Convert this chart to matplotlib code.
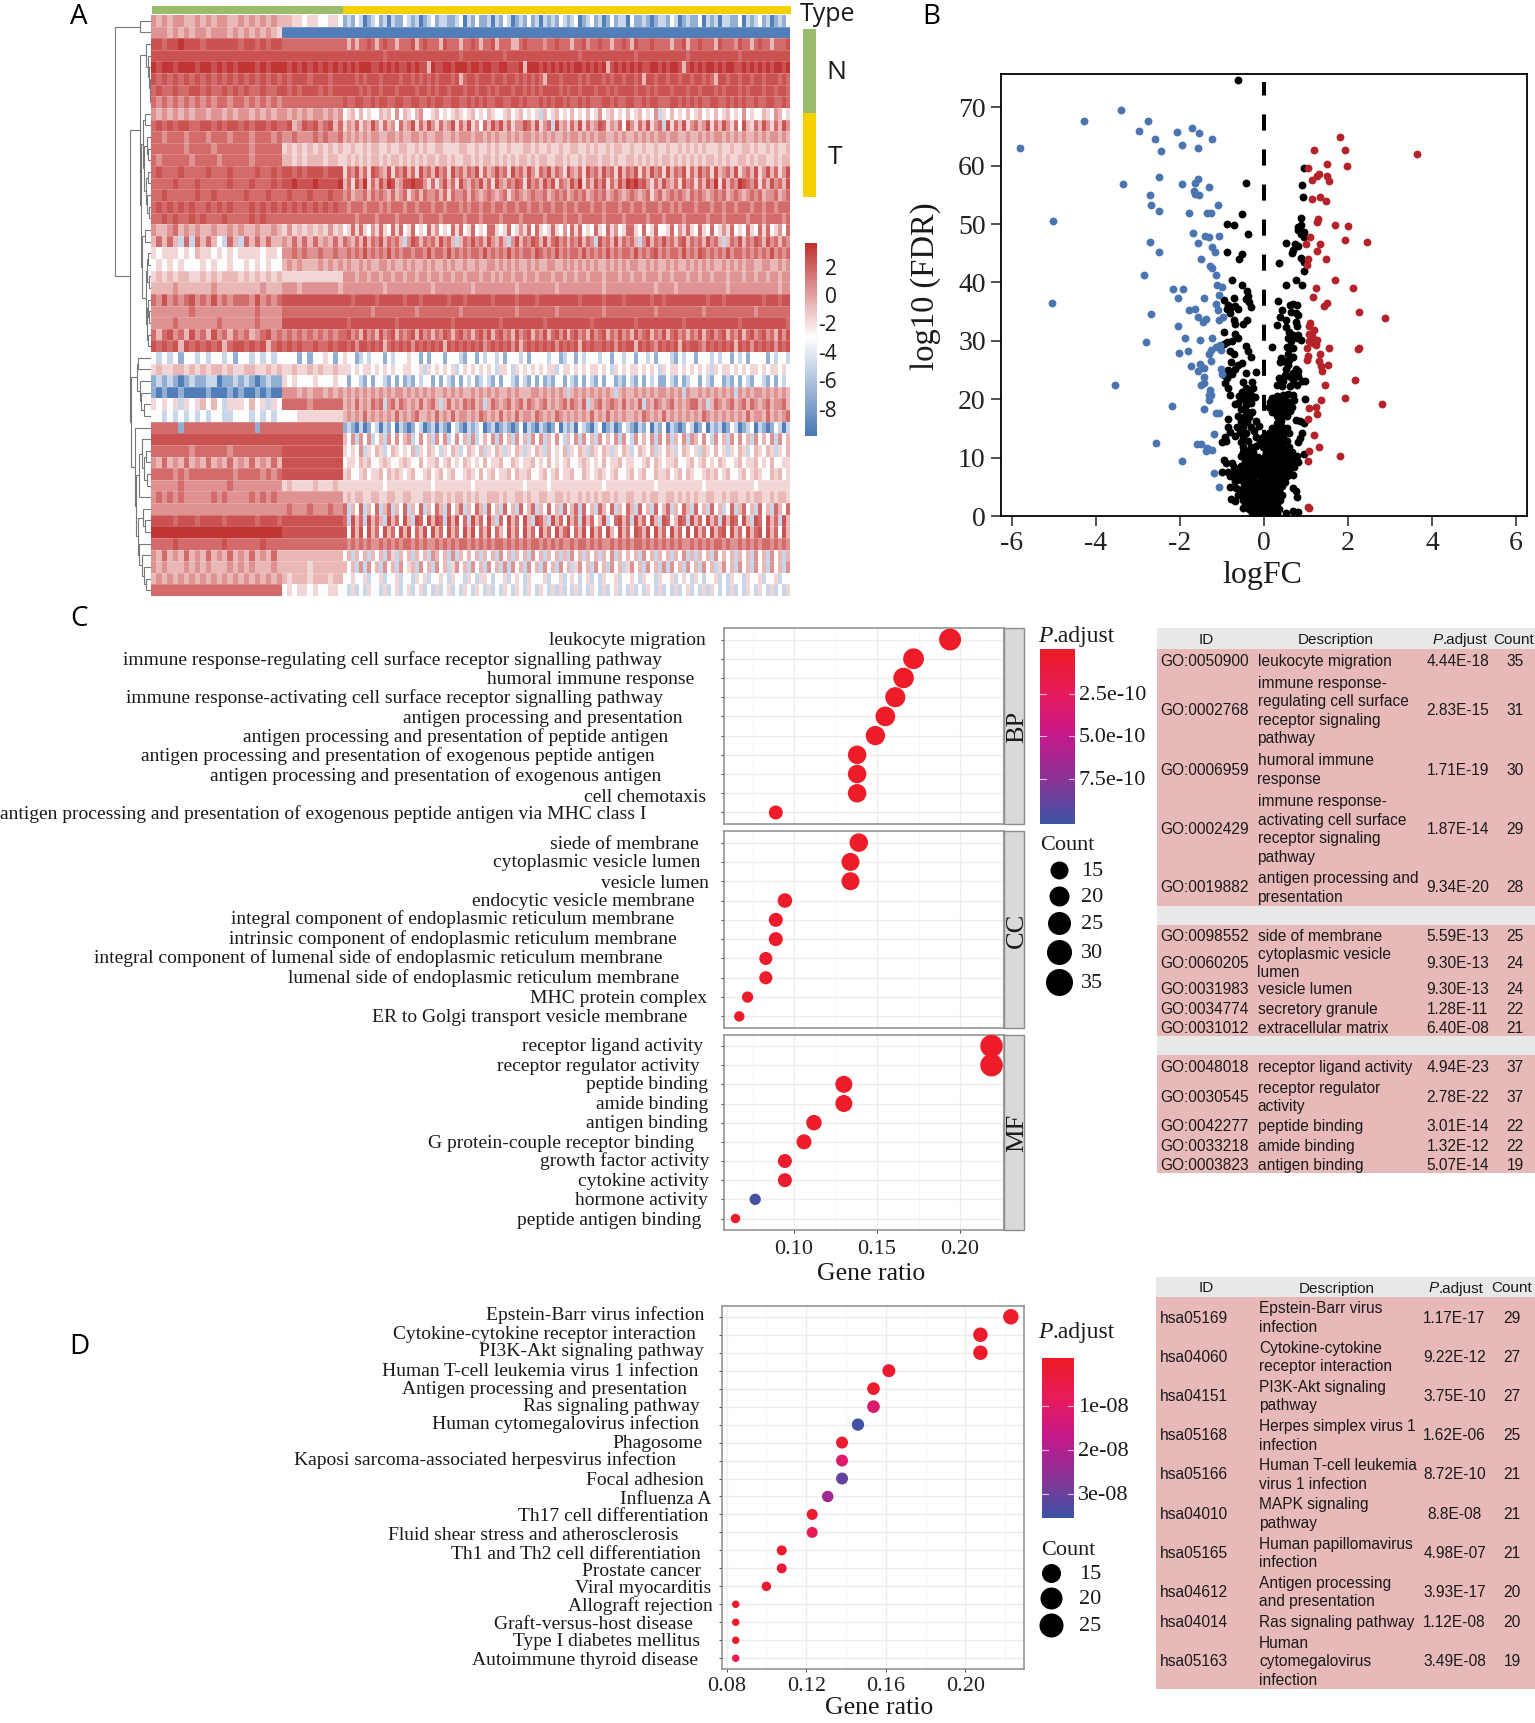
import numpy as np
import matplotlib
matplotlib.use('Agg')
import matplotlib.pyplot as plt
from matplotlib.colors import LinearSegmentedColormap, TwoSlopeNorm, Normalize
from matplotlib.patches import Rectangle

plt.rcParams['axes.unicode_minus'] = False

W, H = 1535, 1723
SERIF = 'Liberation Serif'
SANS = 'Liberation Sans'

# ---- panel A: heat map, one digit per cell, level_values turns digits into values
level_values = [-9.5, -7, -5, -3, -1.6, -0.6, 0.6, 1.8, 2.6, 3.5]
# normal group (24 cells), middle group (12 cells), tumour group (14 x 8 cells)
heat_rows = [
    "656566556565665565656565 554434433443 12132012 31202113 21201231 22112302 13112021 32012131 20212132 12301231 20131220 31121012 21320121 13021202 21130212 31201213",
    "666565656656665656565654 000000000000 00000000 00000000 00000000 00000000 00000000 00000000 00000000 00000000 00000000 00000000 00000000 00000000 00000000 00000000",
    "887889888788888878878788 777777777777 75757787 57877577 78578777 58777577 87577857 77557877 77677877 75778677 87757787 58777877 77577857 78777587 77687757 87757778",
    "888888888888888888888888 888888888888 88888888 88788888 88888888 88888788 88888888 78888888 88888888 88878888 88888888 87888888 88888878 88888888 88878888 88888888",
    "989989998998989899989899 989898989898 98989998 89898988 98988598 89989998 99899889 98889599 98989898 98998989 89589898 98988998 98998589 89899898 99889898 98989989",
    "878787878787878787878787 878887888788 88878788 87888878 87878787 88878578 87888788 78878787 87588878 88878788 87878878 87858878 87887887 88787588 78878878 87888787",
    "787787788787787878778778 878788878788 88887878 87888788 88788787 88788878 87887878 88788787 87888878 78878887 88787888 87887878 88788878 87888787 88878788 87887887",
    "767676767676776776767676 777777777777 87788778 78877887 78877878 87788778 78787788 77887877 78787887 87787877 78878778 87787887 77887878 78778877 87878778 77887787",
    "656565656656656566565656 656565665656 34535343 35453635 43563345 34345434 53435433 45345343 42534534 35343534 63453435 34534362 43534353 45343534 53436343 35436534",
    "787878877887878878788787 785687867857 46574658 64756375 68475864 75684758 46375868 57466875 84672856 47584756 87465738 64758467 28475846 75684758 64738547 58647586",
    "776777677767776777677767 667666767667 56565656 65566565 56656556 65565666 56656565 56565665 65656556 56656565 66556565 56565656 65665565 56565665 65656556 56566565",
    "777777677776777777677777 454545454545 44544545 54454455 44545445 54444554 45445454 45444554 54454454 45544545 44545544 54454454 45445454 54544454 45445545 44545445",
    "767777767777677777677777 554545554554 45454545 54545545 45454554 55454455 45455454 54545545 45544554 54454555 45545445 54545454 55454545 45455454 54455454 55445455",
    "787778777787778777787787 887878887888 47685748 76584768 57486758 67486757 68475686 74867586 47685764 86574867 58674857 68475867 48576847 58674856 75846758 46857468",
    "777787778777778777877787 889888988889 57486947 58698568 89886474 68574865 76857486 57687486 75868476 58694758 68475869 89786475 86574867 47586948 57698768 47586758",
    "778777778778777778777877 787778777877 67566757 67657567 46757667 57476675 76567656 74676567 66756767 56767567 67567656 76567467 56767657 67656767 56765676 75667567",
    "787878787787878777878787 878787878787 76777677 76767776 77677767 76777676 77677677 67767767 76776776 77677767 76777677 67767776 77676777 67776776 77677767 76776777",
    "778787787877787777878777 777777777777 77767777 67777677 77767777 67777767 77677776 77776777 77677776 77767777 76777767 77776777 67777677 77767776 77777677 76777767",
    "655675656556556565565565 464545454645 34747436 47437473 47343746 34374734 73437743 47346473 74347436 37473437 43746347 74373473 34736474 37437346 47343743 74734637",
    "575752727575327527575755 657575756575 76575857 68576752 68757675 86752576 86758657 52685768 75857867 57685762 86758576 75268576 86757857 67586752 57685768 75867576",
    "434443435443434344443443 667676676676 67676867 67686767 76776867 76867676 77686767 68676776 87676867 67768676 76867677 68676786 76776867 68767676 86776767 67686767",
    "343434333434334334343433 565655565656 56556565 56656556 56556565 56565565 56556656 56565565 65566556 56565656 55656565 66556565 56565565 65656556 56565665 56655656",
    "454545544545455545454545 444444444444 66656656 65665665 66566566 56656656 66566565 66566566 56665665 66566566 65666566 56656665 66566656 65665666 56665665 66566566",
    "555565555556555555556555 666566666665 66666666 66566666 66666656 66666666 56666666 66656666 66666566 66666666 65666666 66666656 66656666 66666666 56666666 66666566",
    "768676786768676777686767 888888888888 88788888 78888887 88878888 88788878 88888788 88878888 78888888 88878888 87888878 88888788 78888888 88878887 88888888 87888788",
    "666666676666666666676666 777777777777 77777776 77777777 77677777 77777677 77777777 77767777 77777677 77777777 76777777 77777767 77777777 77677777 77777776 77777777",
    "666676666666766666676666 888888888888 87888888 88888788 88888888 88878888 88888887 88888888 88788888 88888878 88888888 87888888 88888788 88888888 88878888 88888887",
    "757867586758675767567867 676767676767 78675867 58678576 78586757 68757867 57868578 67586785 76857868 57867586 78576867 58678576 85786757 68578678 57685786 78675868",
    "878785878787857887878578 787877877878 87868878 78578787 86878787 85878787 87867878 78685787 87878687 87858787 78786878 85878768 78785878 87687878 78587868 78786878",
    "323231332323323133232323 333131334313 43312323 33132333 43313133 31333213 31323323 13332313 33323312 33132333 23313323 31332313 33213233 13332323 31323133 33132332",
    "454455454545545445544545 445445454454 44343443 43434334 43342434 34342343 43434324 43243434 34344234 43434344 34324343 44343432 43443434 34342434 43434344 34344343",
    "121210121122011212101211 434333433343 31332131 33213131 21323313 13213132 31232131 33213213 13121331 32131321 31331213 21313231 13213123 31321331 21313213 32131323",
    "101001000010001010010100 666565665656 56565656 56565665 65656565 56565655 65656565 56565556 65656565 25656565 65652565 56565656 65656265 56565656 56265656 65656565",
    "434342434535324443534243 777776777777 56575657 67267576 56575675 25756576 75625765 67567576 56756567 57657256 75676575 65726576 56756567 75625765 67567576 56756675",
    "332323232323322333232323 333444444444 56565756 56565756 56755657 56575665 65765657 56575665 76565765 65656575 65756565 56576565 75656565 65765656 56565756 65756567",
    "777771777777777777717777 777777777777 12102013 20213021 01320120 21032102 12301201 21013021 02101302 12032102 30120132 10213021 30210132 01302120 13201230 21013202",
    "888888888888888888888888 888888888888 53626362 35263635 62363526 36236352 62353626 35263526 36253632 53626352 63536263 26353626 36253626 53632635 26363526 35362635",
    "777777767777776777777777 888888888888 43436243 54235434 35243543 24354235 43524354 24354243 54253435 24354254 35424354 23543524 35423543 42543534 24354235 43542435",
    "657565756575657565756575 888888888888 34435453 34543345 43353445 34534354 34353445 33543445 34353434 53345434 35344534 43345354 34453345 34534354 33453445 34353344",
    "777767677777777677776767 888888888888 45334534 45354543 45334534 53453345 43534534 45354453 34534534 45335434 54345334 53453354 45345354 33454534 53345345 43354534",
    "666667666666667666666666 454444544454 44444444 44344444 44444434 44444444 34444444 44444344 44434444 44444444 43444444 44444434 44444444 44344444 44444443 44444444",
    "676767666667676666767676 666666666666 45455445 54455445 54445545 54545545 45445554 54455454 45544554 54454545 45545445 54454554 45545454 54455445 45544545 54454554",
    "666666666666666666666666 676667666766 72537253 72572537 25372537 52735725 37527352 73527357 25373527 35727352 75372537 52735273 57253752 73527352 37257352 73527537",
    "888878887888878888878887 888888888888 72857285 75285738 52873858 72858372 85738527 38573852 87528573 85728573 58237857 28573852 87358728 57385728 58738528 73857285",
    "999999999999999999999999 888888888888 83858385 73857385 83758385 73857385 83758375 38573857 38573857 83758385 73853857 38758385 73857383 85738578 38573857 83857385",
    "777787777777787777778777 777777777777 76767676 67676767 76767667 67676776 76767677 67676767 76767676 67677676 76676767 67767676 76767667 67676776 76676767 67767676",
    "657565756575657565756575 555555555555 35253525 35264253 52535265 35262535 35253526 35253526 35253525 26352535 25362535 35263525 35253625 25352635 35253526 35263525",
    "656555656565556565655565 555554555555 53526263 52635263 45263526 35246352 63526352 62635263 52635263 52463526 35263524 63526352 62635263 52635246 35263526 35263526",
    "565656565656565656565656 545554555455 33433423 34233423 32434233 43243324 32443233 42343243 33423342 34323423 24334233 43243324 33423432 43233423 24332433 42334233",
    "777777777777777777777777 343443433443 32423243 32423423 42342324 23423243 24324232 43243243 24324242 32423243 24234232 42324324 23242342 32424323 24232432 43242324",
]
heat_ticks = [2, 0, -2, -4, -6, -8]
# nested merges: (height, left, right), a plain int is a heat map row
dendro = (36, (11, 0, 1),
          (21,
           (11.5,
            (5, 2, (3, 3, (2, 4, (1.5, 5, (1, 6, 7))))),
            (10,
             (8, (6, 8, 9), (7, (4, 10, (3, 11, 12)), (5, (3, 13, 14), (4, 15, (2, 16, 17))))),
             (9, (6, 18, 19), (5, (4, (3, 20, 21), (2.5, 22, 23)), (4, (3, 24, (2, 25, 26)), (3, 27, 28)))))),
           (20,
            (14, (13, 29, 30), (11, 31, (10, 32, (7, 33, 34)))),
            (16, 35,
             (15, (12, (9, 36, (7, (5, 37, 38), (4, 39, 40))), 41),
              (13, (8, 42, (6, 43, 44)), (12, 45, (9, 46, (7, 47, (5, 48, 49))))))))))

# ---- panel B: volcano, (logFC, log10 FDR)
blue_pts = [(-5.8, 63.1), (-4.28, 67.6), (-3.4, 69.6), (-2.76, 67.7), (-2.97, 66), (-2.6, 64.5), (-2.45, 62.5),
            (-2.08, 65.8), (-1.96, 63.6), (-1.72, 66.4), (-1.55, 65.6), (-1.56, 63), (-1.24, 64.5), (-2.5, 58),
            (-3.35, 56.9), (-1.94, 56.8), (-1.57, 57.7), (-1.64, 57), (-1.3, 56.4), (-1.66, 55.6), (-1.64, 55.1),
            (-1.55, 55), (-2.71, 55), (-2.68, 53.3), (-2.5, 52.2), (-1.1, 53.2), (-1.78, 51.9), (-1.35, 51.9),
            (-1.27, 51.9), (-5.03, 50.5), (-1.7, 48.4), (-1.4, 47.9), (-1.3, 47.7), (-1.07, 48), (-2.71, 47),
            (-1.56, 46.8), (-2.5, 45.3), (-1.24, 46), (-1.16, 45.3), (-1.51, 44.1), (-1.29, 42.9), (-1.23, 42.4),
            (-1.14, 41.3), (-2.86, 41.3), (-2.16, 38.9), (-1.92, 38.9), (-1.12, 39.5), (-1, 39.2), (-2.05, 37.3),
            (-1.42, 37.3), (-1.08, 37.9), (-5.05, 36.5), (-1.14, 36.3), (-1.1, 35.3), (-1.78, 35.3), (-1.64, 35.4),
            (-2.7, 34.6), (-1.56, 34), (-1.39, 33.7), (-1.46, 33.2), (-0.98, 34), (-1.08, 33.5), (-2.05, 32.6),
            (-1.87, 30.5), (-1.52, 30.2), (-1.23, 30.5), (-2.8, 29.8), (-1.05, 29.3), (-1.15, 29), (-1.25, 28.4),
            (-1.3, 27.8), (-1.8, 28.3), (-2.02, 27.9), (-1.03, 28.4), (-1.26, 26.6), (-1.73, 25.7), (-1.52, 26),
            (-1.44, 25.4), (-1.56, 24.9), (-1.03, 25.2), (-1, 24.4), (-1.44, 23.8), (-1.42, 22.7), (-1.5, 22.5),
            (-3.55, 22.5), (-1.29, 21.5), (-1.31, 20.7), (-1.26, 20.7), (-1.31, 19.9), (-2.2, 18.9), (-1.43, 18.4),
            (-1.15, 17.6), (-1.07, 17.6), (-1.2, 14.1), (-2.56, 12.5), (-1.6, 12.4), (-1.5, 12.4), (-1.36, 11.7),
            (-1.24, 11.3), (-1.39, 11.1), (-1.96, 9.4), (-1.18, 7.3), (-1.08, 5)]
red_pts = [(1.81, 64.9), (1.18, 62.7), (1.92, 62.6), (3.65, 62), (1.5, 60.3), (1.97, 60), (1.04, 59.6), (1.32, 58.6),
           (1.26, 58.3), (1.14, 57.5), (1.5, 58.3), (1.54, 57.4), (1.33, 54.7), (1.14, 54.3), (1.48, 53.9),
           (1.29, 50.9), (1.27, 50.4), (1.69, 49.8), (2, 49.7), (1.1, 47.7), (1.92, 47.2), (2.46, 47), (1.33, 46.5),
           (1, 46.5), (1.26, 45.4), (1.05, 44), (1.48, 44), (1.02, 43), (1.69, 40.4), (1.23, 39), (2.13, 39),
           (1.16, 37.5), (1.49, 36.5), (1.42, 36), (2.25, 34.9), (2.87, 33.9), (1.1, 33.1), (1.06, 32.6), (1.2, 31.8),
           (1.06, 31.2), (1.14, 30.8), (1.25, 30.2), (1.08, 29.9), (1.16, 29.6), (1.23, 29.3), (1.02, 28.7),
           (1.54, 28.7), (2.23, 28.6), (2.26, 28.7), (1.33, 27.7), (1.04, 27.4), (1.03, 26.7), (1.3, 26.6),
           (1.53, 25.8), (1.35, 25.7), (1.38, 24.8), (2.16, 23.3), (1.45, 22.4), (1.93, 20.2), (1.35, 19.8),
           (2.82, 19.1), (1.06, 18.5), (1.24, 18.6), (1.27, 17.4), (1.04, 16.6), (1.18, 13.8), (1.3, 11.8),
           (1.08, 11.2), (1.82, 10.3), (1.04, 9.5), (1.04, 1.5), (1.06, 1.3)]
black_pts = [(-0.62, 74.6), (0.95, 59.6), (-0.43, 57), (0.9, 56.7), (0.93, 54.6), (-0.52, 51.7), (0.89, 51.1),
             (-0.89, 50), (-0.72, 49.8), (0.87, 49.9), (0.82, 49.5), (0.82, 48.9), (0.95, 48.7), (-0.38, 48.3),
             (0.87, 48.3), (0.96, 47.7), (0.52, 46.8), (0.73, 46.5), (0.82, 46.2), (0.68, 45.6), (0.66, 45),
             (-0.87, 45.3), (-0.52, 44.8), (-0.6, 44), (0.87, 44.2), (0.35, 43.4), (0.96, 43.5), (0.95, 42),
             (-0.77, 40.5), (0.77, 40.5), (-0.52, 39.6), (0.53, 39.6), (0.91, 39.6), (-0.4, 38.5), (-0.38, 37.7),
             (-0.95, 37), (-0.72, 37.3), (-0.42, 37.1), (-0.35, 36.6), (-0.85, 36.2), (-0.78, 35.8), (-0.7, 36),
             (-0.62, 35.4), (-0.32, 35.8), (-0.88, 35.4), (-0.8, 34.8), (-0.72, 33.5), (-0.4, 33.5), (-0.5, 32.8),
             (-0.7, 32.9), (-0.95, 31.5), (-0.68, 31.2), (-0.62, 30.4), (-0.75, 30), (-0.88, 29.8), (-0.96, 29.5),
             (-0.82, 28.2), (-0.42, 29.2), (-0.38, 28.3), (-0.72, 27.8), (-0.32, 27.3), (-0.78, 26.4), (-0.62, 25.8),
             (-0.52, 26.2), (-0.7, 25.2), (-0.85, 25), (-0.95, 24.2), (-0.75, 24.3), (-0.88, 23.6), (-0.42, 24.5),
             (-0.2, 24.6), (-0.92, 22.8), (-0.85, 22), (-0.82, 20.8), (0.33, 36.8), (0.42, 35.3), (0.62, 36.2),
             (0.7, 36.3), (0.78, 36.1), (0.65, 35), (0.75, 34.8), (0.82, 34.5), (0.38, 34), (0.52, 33.6), (0.75, 33.2),
             (0.3, 32.7), (0.78, 32.6), (0.52, 32.3), (0.6, 31.5), (0.7, 31), (0.82, 31), (0.58, 30.5), (0.65, 30),
             (0.78, 30.5), (0.87, 30.2), (0.2, 29), (0.55, 29), (0.62, 28.7), (0.7, 28.7), (0.58, 27.8), (0.68, 27.3),
             (0.4, 27), (0.47, 26.5), (0.6, 26.8), (0.38, 26.3), (0.58, 25.8), (0.52, 25.2), (0.75, 25.2), (0.82, 24.8),
             (0.68, 24.5), (0.5, 24.2), (0.6, 24), (0.8, 24), (0.35, 23.6), (0.45, 23.1), (0.7, 23.3), (0.9, 23.2),
             (0.98, 23.1), (0.3, 22.5), (0.42, 22.2), (0.62, 22.3), (0.78, 22.5), (-0.5, 23), (-0.28, 23), (-0.42, 22),
             (-0.25, 22), (-0.52, 21.3), (-0.35, 21.5), (-0.45, 20.6), (-0.6, 20.5), (-0.3, 20.8), (-0.5, 20),
             (-0.38, 19.8), (-0.7, 19.2), (-0.62, 19.3), (-0.42, 19), (-0.3, 19.4), (-0.22, 20.3), (0.98, 20.1),
             (0.2, 20.2), (0.32, 20.6), (0.45, 20.8), (0.58, 20.9), (0.68, 20.7), (0.15, 19.5), (0.26, 19.6),
             (0.38, 19.7), (0.5, 19.9), (0.62, 19.6), (0.72, 19.8), (0.12, 18.7), (0.22, 18.6), (0.34, 18.9),
             (0.46, 18.7), (0.56, 18.9), (0.66, 18.6), (0.18, 17.8), (0.28, 17.9), (0.4, 18), (0.5, 17.8), (0.62, 18),
             (0.32, 17.1), (0.44, 17.2), (0.54, 17.1), (-0.55, 18.3), (-0.42, 17.9), (-0.28, 17.8), (-0.62, 17.2),
             (-0.48, 16.9), (-0.36, 17), (-0.85, 16.6), (-0.55, 16.2), (-0.4, 16.1), (-0.2, 16.3), (0.75, 16.4),
             (0.85, 16.2), (0.95, 16), (0.3, 16), (0.4, 16.3), (-0.85, 15.2), (-0.65, 15.3), (-0.5, 15.2), (-0.32, 15.3),
             (-0.12, 15.4), (0.18, 15.1), (0.3, 15.2), (0.42, 15.3), (0.55, 15.1), (-0.8, 14.4), (-0.58, 14.4),
             (-0.44, 14.3), (-0.24, 14.5), (0.12, 14.3), (0.24, 14.4), (0.36, 14.2), (0.48, 14.5), (0.6, 14.3),
             (0.9, 14.2), (-0.92, 13.6), (-0.68, 13.7), (-0.5, 13.5), (-0.18, 13.6), (-0.02, 13.5), (0.1, 13.5),
             (0.22, 13.6), (0.34, 13.4), (0.46, 13.6), (0.85, 13.4), (-1, 12.7), (-0.9, 12.8), (-0.55, 12.7),
             (-0.38, 12.8), (-0.1, 12.6), (0.06, 12.8), (0.18, 12.6), (0.3, 12.8), (0.42, 12.7), (0.54, 12.8),
             (0.8, 12.6), (-0.5, 11.9), (-0.32, 11.8), (-0.2, 12), (-0.02, 11.9), (0.1, 11.8), (0.22, 12), (0.34, 11.9),
             (0.46, 11.7), (0.6, 11.9), (-0.5, 11), (-0.38, 11.1), (-0.25, 10.9), (0.04, 11), (0.16, 11.1), (0.28, 10.9),
             (0.4, 11), (0.52, 11.1), (0.66, 11), (-0.55, 10.2), (-0.4, 10.2), (-0.3, 10.3), (-0.15, 10.1), (0.02, 10.2),
             (0.14, 10.3), (0.26, 10.1), (0.38, 10.2), (0.5, 10.3), (0.62, 10.1), (0.78, 10.3), (0.95, 10.6),
             (-0.95, 9.6), (-0.9, 9), (-0.75, 9), (-0.45, 9.4), (-0.32, 9.5), (-0.2, 9.3), (-0.06, 9.4), (0.08, 9.5),
             (0.2, 9.3), (0.32, 9.4), (0.44, 9.5), (0.56, 9.3), (0.7, 9.4), (0.8, 9.2), (-0.72, 8.4), (-0.55, 8.5),
             (-0.4, 8.6), (-0.26, 8.4), (-0.12, 8.6), (0.02, 8.5), (0.14, 8.4), (0.26, 8.6), (0.38, 8.4), (0.5, 8.5),
             (0.62, 8.6), (0.72, 8.4), (-1, 7.6), (-0.85, 7.5), (-0.7, 7.6), (-0.58, 7.7), (-0.44, 7.6), (-0.3, 7.8),
             (-0.16, 7.6), (-0.02, 7.7), (0.1, 7.6), (0.22, 7.8), (0.34, 7.6), (0.46, 7.7), (0.6, 7.6), (-0.82, 6.9),
             (-0.66, 6.8), (-0.5, 6.9), (-0.36, 6.8), (-0.22, 7), (-0.08, 6.8), (0.06, 6.9), (0.18, 6.8), (0.3, 7),
             (0.42, 6.8), (0.54, 6.9), (0.68, 7), (-0.68, 6), (-0.54, 6.1), (-0.4, 6), (-0.26, 6.1), (-0.12, 5.9),
             (0.02, 6.1), (0.14, 6), (0.26, 6.1), (0.38, 6), (0.5, 5.9), (-0.8, 5), (-0.66, 4.8), (-0.48, 5.2), (-0.34, 5.2),
             (-0.2, 5.1), (-0.06, 5.3), (0.08, 5.1), (0.2, 5.2), (0.32, 5), (0.44, 5.2), (0.7, 4.8), (-0.55, 4.4),
             (-0.42, 4.3), (-0.28, 4.4), (-0.14, 4.2), (0, 4.4), (0.12, 4.3), (0.24, 4.4), (0.36, 4.2), (0.76, 4.2),
             (-0.62, 3.6), (-0.48, 3.5), (-0.34, 3.6), (-0.2, 3.4), (-0.06, 3.6), (0.06, 3.5), (0.18, 3.6), (0.3, 3.4),
             (0.42, 3.6), (0.78, 3.2), (-0.78, 2.9), (-0.7, 2.6), (-0.5, 2.7), (-0.38, 2.8), (-0.24, 2.6), (-0.1, 2.8),
             (0.02, 2.6), (0.14, 2.8), (0.26, 2.6), (0.38, 2.8), (-0.45, 1.9), (-0.32, 1.8), (-0.18, 2), (-0.04, 1.8),
             (0.08, 2), (0.2, 1.8), (0.32, 2), (-0.5, 1.3), (-0.36, 1.2), (-0.22, 1.1), (-0.1, 1.2), (0.02, 1.1),
             (0.14, 1.3), (0.26, 1.1), (0.36, 1.2), (-0.28, 0.5), (-0.16, 0.4), (-0.04, 0.5), (0.08, 0.4), (0.2, 0.5),
             (0.32, 0.4), (0.52, 0.5), (0.68, 0.9), (0.82, 0.6)]

# ---- panel C: dot plots
bp_terms = ['leukocyte migration', 'immune response-regulating cell surface receptor signalling pathway',
            'humoral immune response', 'immune response-activating cell surface receptor signalling pathway',
            'antigen processing and presentation', 'antigen processing and presentation of peptide antigen',
            'antigen processing and presentation of exogenous peptide antigen',
            'antigen processing and presentation of exogenous antigen', 'cell chemotaxis',
            'antigen processing and presentation of exogenous peptide antigen via MHC class I']
bp_ratio = [0.194, 0.172, 0.166, 0.161, 0.155, 0.149, 0.138, 0.138, 0.138, 0.089]
bp_count = [35, 31, 30, 29, 28, 27, 25, 25, 25, 16]
bp_padj = [4.4e-18, 2.8e-15, 1.7e-19, 1.9e-14, 9.3e-20, 1e-18, 1e-16, 1e-16, 1e-12, 1e-12]
cc_terms = ['siede of membrane', 'cytoplasmic vesicle lumen', 'vesicle lumen', 'endocytic vesicle membrane',
            'integral component of endoplasmic reticulum membrane', 'intrinsic component of endoplasmic reticulum membrane',
            'integral component of lumenal side of endoplasmic reticulum membrane',
            'lumenal side of endoplasmic reticulum membrane', 'MHC protein complex', 'ER to Golgi transport vesicle membrane']
cc_ratio = [0.139, 0.134, 0.134, 0.0945, 0.089, 0.089, 0.083, 0.083, 0.072, 0.067]
cc_count = [25, 24, 24, 17, 16, 16, 15, 15, 13, 12]
cc_padj = [5.6e-13, 9.3e-13, 9.3e-13, 1e-11, 1e-11, 1e-11, 1e-11, 1e-11, 1e-11, 1e-11]
mf_terms = ['receptor ligand activity', 'receptor regulator activity', 'peptide binding', 'amide binding',
            'antigen binding', 'G protein-couple receptor binding', 'growth factor activity', 'cytokine activity',
            'hormone activity', 'peptide antigen binding']
mf_ratio = [0.219, 0.219, 0.130, 0.130, 0.112, 0.106, 0.0945, 0.0945, 0.0766, 0.0647]
mf_count = [37, 37, 22, 22, 19, 18, 16, 16, 13, 11]
mf_padj = [4.9e-23, 2.8e-22, 3e-14, 1.3e-12, 5.1e-14, 1e-11, 3e-11, 4e-11, 9.8e-10, 1e-11]

# ---- panel D
kegg_terms = ['Epstein-Barr virus infection', 'Cytokine-cytokine receptor interaction', 'PI3K-Akt signaling pathway',
              'Human T-cell leukemia virus 1 infection', 'Antigen processing and presentation', 'Ras signaling pathway',
              'Human cytomegalovirus infection', 'Phagosome', 'Kaposi sarcoma-associated herpesvirus infection',
              'Focal adhesion', 'Influenza A', 'Th17 cell differentiation', 'Fluid shear stress and atherosclerosis',
              'Th1 and Th2 cell differentiation', 'Prostate cancer', 'Viral myocarditis', 'Allograft rejection',
              'Graft-versus-host disease', 'Type I diabetes mellitus', 'Autoimmune thyroid disease']
kegg_ratio = [0.2228, 0.2075, 0.2075, 0.1615, 0.1538, 0.1538, 0.146, 0.138, 0.138, 0.138, 0.1308, 0.123, 0.123,
              0.1077, 0.1077, 0.1, 0.0846, 0.0846, 0.0846, 0.0846]
kegg_count = [29, 27, 27, 21, 20, 20, 19, 18, 18, 18, 17, 16, 16, 14, 14, 13, 11, 11, 11, 11]
kegg_padj = [1.2e-17, 9.2e-12, 3.8e-10, 8.7e-10, 3.9e-17, 1.12e-8, 3.49e-8, 1e-9, 1.1e-8, 3.1e-8, 2.3e-8, 1e-9, 7e-9,
             1e-10, 2e-9, 1e-9, 1e-10, 1e-10, 1e-9, 5e-9]

# ---- tables, empty id is a grey separator band
go_ids = ['GO:0050900', 'GO:0002768', 'GO:0006959', 'GO:0002429', 'GO:0019882', '', 'GO:0098552', 'GO:0060205',
          'GO:0031983', 'GO:0034774', 'GO:0031012', '', 'GO:0048018', 'GO:0030545', 'GO:0042277', 'GO:0033218', 'GO:0003823']
go_desc = ['leukocyte migration', 'immune response-\nregulating cell surface\nreceptor signaling\npathway',
           'humoral immune\nresponse', 'immune response-\nactivating cell surface\nreceptor signaling\npathway',
           'antigen processing and\npresentation', '', 'side of membrane', 'cytoplasmic vesicle\nlumen', 'vesicle lumen',
           'secretory granule', 'extracellular matrix', '', 'receptor ligand activity', 'receptor regulator\nactivity',
           'peptide binding', 'amide binding', 'antigen binding']
go_padj = ['4.44E-18', '2.83E-15', '1.71E-19', '1.87E-14', '9.34E-20', '', '5.59E-13', '9.30E-13', '9.30E-13',
           '1.28E-11', '6.40E-08', '', '4.94E-23', '2.78E-22', '3.01E-14', '1.32E-12', '5.07E-14']
go_count = ['35', '31', '30', '29', '28', '', '25', '24', '24', '22', '21', '', '37', '37', '22', '22', '19']
kegg_ids = ['hsa05169', 'hsa04060', 'hsa04151', 'hsa05168', 'hsa05166', 'hsa04010', 'hsa05165', 'hsa04612', 'hsa04014', 'hsa05163']
kegg_desc = ['Epstein-Barr virus\ninfection', 'Cytokine-cytokine\nreceptor interaction', 'PI3K-Akt signaling\npathway',
             'Herpes simplex virus 1\ninfection', 'Human T-cell leukemia\nvirus 1 infection', 'MAPK signaling\npathway',
             'Human papillomavirus\ninfection', 'Antigen processing\nand presentation', 'Ras signaling pathway',
             'Human\ncytomegalovirus\ninfection']
kegg_tab_padj = ['1.17E-17', '9.22E-12', '3.75E-10', '1.62E-06', '8.72E-10', '8.8E-08', '4.98E-07', '3.93E-17', '1.12E-08', '3.49E-08']
kegg_tab_count = ['29', '27', '27', '25', '21', '21', '21', '20', '20', '19']

# ---- layout in reference pixels
go_row_h = [21.2, 78.5, 39.9, 78.5, 38.6, 19, 21.2, 32.5, 20, 19, 19, 19, 21, 39, 19.5, 19.5, 19]
kegg_row_h = [39.2] * 8 + [21, 57]
bp_edges = [706, 662, 694, 662.5, 682.5, 668, 654.6, 661.5, 706, 647]
bp_y = [639, 659, 678, 697, 717, 736, 755, 775, 796, 813]
cc_edges = [699, 700, 708.6, 694, 674, 677, 662, 679, 707, 687]
cc_y = [843, 861, 882, 900, 918, 938, 957, 977, 997, 1016]
mf_edges = [703, 700, 708, 708, 708, 694, 709, 709, 708, 701]
mf_y = [1045, 1065, 1083, 1103, 1122, 1142, 1160, 1180, 1199, 1219]
kegg_edges = [704, 695.5, 704, 698, 687, 700, 699, 703, 676, 704, 712, 708, 679, 701, 701, 711, 713, 693, 700, 698]
kegg_y = [1314, 1333, 1350, 1370, 1388, 1405, 1423, 1442, 1459, 1479, 1498, 1515, 1534, 1553, 1570, 1587, 1605, 1623, 1640, 1659]

fig = plt.figure(figsize=(W / 100, H / 100), dpi=100, facecolor='white')


def axpx(x0, y0, x1, y1):
    return fig.add_axes([x0 / W, 1 - y1 / H, (x1 - x0) / W, (y1 - y0) / H])


ov = axpx(0, 0, W, H)
ov.set_xlim(0, W)
ov.set_ylim(H, 0)
ov.axis('off')
ov.set_zorder(5)


def label(x, y, s, size=14, family=SERIF, ha='center', va='center', **kw):
    # va center sits a little high against the reference text
    ov.text(x, y + 1.5, s, fontsize=size, family=family, ha=ha, va=va, color=kw.pop('color', '#1a1a1a'), **kw)


def padjust_title(x, y, size, family):
    # italic P butted against the rest of the word
    label(x, y, 'P', size=size, family=family, ha='right', style='italic')
    label(x, y, '.adjust', size=size, family=family, ha='left')


# ---------- A
for x, y, s in [(79, 16, 'A'), (931, 16, 'B'), (79, 618, 'C'), (79, 1346, 'D')]:
    label(x, y, s, size=20, family='Open Sans', color='black')

heat_cmap = LinearSegmentedColormap.from_list('heat', ['#4a78b5', '#ffffff', '#c0312f'])
heat_norm = TwoSlopeNorm(vmin=-9.8, vcenter=-2.9, vmax=3.7)
cells = []
for r in heat_rows:
    n_part, m_part, *t_part = r.split()
    t_part = ''.join(t_part)
    cells.append([level_values[int(c)] for c in n_part[:24] + m_part[:12] + t_part[:112]])
heat = np.array(cells)
col_edges = np.concatenate([np.linspace(151, 282, 25), np.linspace(282, 343, 13)[1:], np.linspace(343, 790, 113)[1:]])
ax = axpx(151, 15, 790, 596)
ax.pcolormesh(col_edges, np.arange(51), heat, cmap=heat_cmap, norm=heat_norm, rasterized=True)
ax.hlines(np.arange(1, 50), 151, 790, color='white', lw=0.4, alpha=0.35)
ax.set_xlim(151, 790)
ax.set_ylim(50, 0)
ax.axis('off')

ov.add_patch(Rectangle((152, 5.5), 191, 8.5, color='#9bbb6d', lw=0))
ov.add_patch(Rectangle((343, 5.5), 448, 8.5, color='#f5d000', lw=0))
ov.add_patch(Rectangle((803, 29), 13, 84, color='#9bbb6d', lw=0))
ov.add_patch(Rectangle((803, 113), 13, 84, color='#f5d000', lw=0))
label(827, 13, 'Type', size=18, family='Open Sans')
label(836, 71, 'N', size=19, family='Open Sans')
label(835, 156, 'T', size=19, family='Open Sans')

cb = axpx(805, 243, 817, 436)
cb.imshow(np.linspace(3.7, -9.8, 256)[:, None], cmap=heat_cmap, norm=heat_norm, aspect='auto', extent=[0, 1, -9.8, 3.7])
cb.set_xticks([])
cb.set_yticks([])
for s in cb.spines.values():
    s.set_visible(False)
for v in heat_ticks:
    label(837, 296 - v * 14.2, str(v), size=15, family='Open Sans', ha='right')

den = axpx(113, 15, 151, 596)
den.set_xlim(38, 0)
den.set_ylim(50, 0)
den.axis('off')


def draw_dendro(node):
    if isinstance(node, int):
        return 0, node + 0.5
    h, a, b = node
    ha, ya = draw_dendro(a)
    hb, yb = draw_dendro(b)
    den.plot([ha, h, h, hb], [ya, ya, yb, yb], color='#777777', lw=0.8, solid_joinstyle='miter')
    return h, (ya + yb) / 2


draw_dendro(dendro)

# ---------- B
ax = axpx(1001, 74, 1527, 516)
for pts, col in [(black_pts, 'black'), (blue_pts, '#4a75b0'), (red_pts, '#b5232a')]:
    pts = np.array(pts)
    ax.scatter(pts[:, 0], pts[:, 1], s=32, color=col, lw=0, zorder=3)
ax.plot([0, 0], [0, 74.3], color='black', lw=2.9, dashes=(4.0, 4.7), dash_capstyle='butt', zorder=2)
ax.set_xlim(-6.26, 6.26)
ax.set_ylim(0, 75.7)
ax.set_xticks(np.arange(-6, 7, 2))
ax.set_yticks(np.arange(0, 71, 10))
ax.tick_params(direction='out', length=7, width=1.1, labelsize=20, pad=4, colors='#222222')
for t in ax.get_xticklabels() + ax.get_yticklabels():
    t.set_family(SERIF)
for s in ax.spines.values():
    s.set_linewidth(1.3)
label(1262, 574, 'logFC', size=23)
label(926, 285, 'log10 (FDR)', size=23.5, rotation=90)

# ---------- C / D dot plots
dot_cmap = LinearSegmentedColormap.from_list('padj', ['#ed1c24', '#e81b5c', '#c4198c', '#8a3496', '#3c53a4'])


def dot_panel(box, ratio, count, padj, xlim, norm, sizes, major, minor, show_x, pad=5):
    ax = axpx(*box)
    n = len(ratio)
    y = np.arange(n)
    d = np.interp(count, sizes[0], sizes[1])
    ax.scatter(ratio, y, s=(d * 0.72) ** 2, c=padj, cmap=dot_cmap, norm=norm, lw=0, zorder=3)
    ax.set_xlim(*xlim)
    ax.set_ylim(n - 0.4, -0.6)
    ax.set_yticks(y)
    ax.set_yticklabels([])
    ax.set_xticks(major)
    ax.set_xticks(minor, minor=True)
    ax.grid(True, which='major', color='#ececec', lw=1, zorder=0)
    ax.grid(True, which='minor', axis='x', color='#f4f4f4', lw=0.6, zorder=0)
    ax.set_axisbelow(True)
    ax.tick_params(axis='y', length=2.5, width=0.7, color='#444444')
    ax.tick_params(axis='x', which='minor', length=0)
    if show_x:
        ax.tick_params(axis='x', length=2.5, width=0.7, color='#444444', labelsize=16, pad=pad, labelcolor='#222222')
        for t in ax.get_xticklabels():
            t.set_family(SERIF)
    else:
        ax.tick_params(axis='x', length=0, labelbottom=False)
    for s in ax.spines.values():
        s.set_color('#8c8c8c')
        s.set_linewidth(1.1)
    return ax


c_norm = Normalize(vmin=-0.2e-10, vmax=1.02e-9)
c_sizes = ([11, 16, 25, 30, 37], [9.5, 14, 18.5, 20.5, 22.5])
c_major = [0.10, 0.15, 0.20]
c_minor = [0.075, 0.125, 0.175, 0.225]
c_xlim = (0.0575, 0.2265)
panels = [((723.5, 628, 1004, 824), bp_ratio, bp_count, bp_padj, 'BP', bp_terms, bp_edges, bp_y),
          ((723.5, 831, 1004, 1028), cc_ratio, cc_count, cc_padj, 'CC', cc_terms, cc_edges, cc_y),
          ((723.5, 1034.5, 1004, 1230), mf_ratio, mf_count, mf_padj, 'MF', mf_terms, mf_edges, mf_y)]
for box, ratio, count, padj, strip, terms, edges, ys in panels:
    ax = dot_panel(box, ratio, count, padj, c_xlim, c_norm, c_sizes, c_major, c_minor, strip == 'MF')
    if strip == 'MF':
        ax.set_xticklabels(['0.10', '0.15', '0.20'])
    ov.add_patch(Rectangle((1004, box[1]), 20, box[3] - box[1], fc='#d9d9d9', ec='#8c8c8c', lw=1))
    label(1017, (box[1] + box[3]) / 2 - 1, strip, size=19, rotation=90)
    for term, e, yy in zip(terms, edges, ys):
        label(e, yy, term, size=14, ha='right')
label(871, 1273, 'Gene ratio', size=18.5)

d_norm = Normalize(vmin=-0.1e-8, vmax=3.55e-8)
d_sizes = ([11, 13, 16, 18, 21, 27, 29], [7.5, 9.5, 11, 12, 13, 14.5, 15.5])
ax = dot_panel((722, 1306, 1024, 1669), kegg_ratio, kegg_count, kegg_padj, (0.0777, 0.2294), d_norm, d_sizes,
               [0.08, 0.12, 0.16, 0.20], [0.10, 0.14, 0.18, 0.22], True, pad=3)
ax.set_xticklabels(['0.08', '0.12', '0.16', '0.20'])
for term, e, yy in zip(kegg_terms, kegg_edges, kegg_y):
    label(e, yy, term, size=14, ha='right')
label(879, 1707, 'Gene ratio', size=18.5)


def padj_bar(box, norm, ticks, tick_text):
    ax = axpx(*box)
    ax.imshow(np.linspace(norm.vmin, norm.vmax, 256)[:, None], cmap=dot_cmap, norm=norm, aspect='auto',
              extent=[0, 1, norm.vmax, norm.vmin])
    ax.set_xticks([])
    ax.set_yticks([])
    for s in ax.spines.values():
        s.set_visible(False)
    for t, s in zip(ticks, tick_text):
        ax.plot([0, 0.18], [t, t], color='white', alpha=0.7, lw=0.8)
        ax.plot([0.82, 1], [t, t], color='white', alpha=0.7, lw=0.8)
        yp = box[1] + (t - norm.vmin) / (norm.vmax - norm.vmin) * (box[3] - box[1])
        label(box[2] + 4, yp, s, size=16, ha='left')
    ax.set_xlim(0, 1)
    ax.set_ylim(norm.vmax, norm.vmin)


padjust_title(1052, 635, 17, SERIF)
padj_bar((1040, 649, 1075, 824), c_norm, [2.5e-10, 5e-10, 7.5e-10], ['2.5e-10', '5.0e-10', '7.5e-10'])
label(1040, 844, 'Count', size=16, ha='left')
for c, yy, d in zip([15, 20, 25, 30, 35], [870, 896, 923, 952, 982], [18, 20, 23, 25, 27]):
    ov.scatter([1059], [yy], s=(d * 0.72) ** 2, color='black', lw=0)
    label(1081, yy, str(c), size=16, ha='left')

padjust_title(1052, 1331, 17, SERIF)
padj_bar((1042, 1358, 1074, 1518), d_norm, [1e-8, 2e-8, 3e-8], ['1e-08', '2e-08', '3e-08'])
label(1041, 1549, 'Count', size=16, ha='left')
for c, yy, d in zip([15, 20, 25], [1573, 1598, 1625], [19, 22, 24]):
    ov.scatter([1051], [yy], s=(d * 0.72) ** 2, color='black', lw=0)
    label(1079, yy, str(c), size=16, ha='left')


# ---------- tables
def table(x0, top, head_h, heights, cols, id_x, desc_x, padj_x, count_x, head_x):
    ov.add_patch(Rectangle((x0, top), W - x0, head_h, color='#e8e8e8', lw=0))
    label(head_x[0], top + head_h / 2, 'ID', size=11, family=SANS)
    label(head_x[1], top + head_h / 2, 'Description', size=11, family=SANS)
    padjust_title(head_x[2], top + head_h / 2, 11, SANS)
    label(head_x[3], top + head_h / 2, 'Count', size=11, family=SANS)
    y = top + head_h
    for h, gid, desc, p, c in zip(heights, *cols):
        ov.add_patch(Rectangle((x0, y), W - x0, h, color='#e8b9b9' if gid else '#e8e8e8', lw=0))
        if gid:
            m = y + h / 2
            label(id_x, m, gid, size=11.2, family=SANS, ha='left')
            label(desc_x, m, desc, size=11.2, family=SANS, ha='left', linespacing=1.3)
            label(padj_x, m, p, size=11.2, family=SANS)
            label(count_x, m, c, size=11.2, family=SANS)
        y += h


table(1157, 628, 21, go_row_h, (go_ids, go_desc, go_padj, go_count), 1160.5, 1257.5, 1458, 1515, (1206, 1336, 1443, 1514))
table(1156, 1277, 20, kegg_row_h, (kegg_ids, kegg_desc, kegg_tab_padj, kegg_tab_count), 1159.5, 1259, 1454.5, 1512,
      (1206, 1337, 1439, 1512))

ov.set_xlim(0, W)
ov.set_ylim(H, 0)
fig.savefig('out.png', dpi=100)
